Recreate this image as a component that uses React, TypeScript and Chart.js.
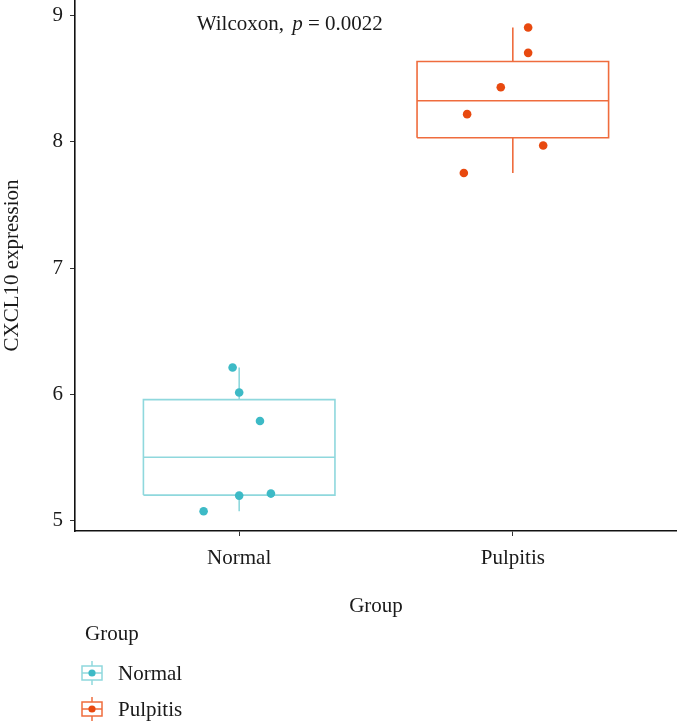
import { useEffect, useRef } from "react";
import { Chart, registerables } from "chart.js";

Chart.register(...registerables);

// ---- data ----
const categories = ["Normal", "Pulpitis"];
const normalValues = [6.213, 6.015, 5.79, 5.2, 5.216, 5.076];
const normalJitter = [-0.024, 0.0, 0.076, 0.0, 0.116, -0.13];
const pulpitisValues = [8.903, 8.702, 8.43, 8.217, 7.969, 7.752];
const pulpitisJitter = [0.056, 0.056, -0.044, -0.167, 0.111, -0.179];
const yTicks = [5, 6, 7, 8, 9];
const statMethod = "Wilcoxon";
const statP = "0.0022";
const legendTitle = "Group";
const xTitle = "Group";
const yTitle = "CXCL10 expression";

// ---- styles ----
const pointColors = ["#3DBAC6", "#E8490F"];
const lineColors = ["#8FD8DD", "#EF6C3D"];
const FONT = "'Liberation Serif', 'Times New Roman', serif";
const FS = 21;
const TEXT = "#1a1a1a";
const BOX_HALF = 0.35;

function quantile(sorted: number[], p: number) {
  const pos = (sorted.length - 1) * p;
  const lo = Math.floor(pos);
  const hi = Math.ceil(pos);
  return sorted[lo] + (sorted[hi] - sorted[lo]) * (pos - lo);
}

function boxStats(values: number[]) {
  const s = [...values].sort((a, b) => a - b);
  const q1 = quantile(s, 0.25);
  const med = quantile(s, 0.5);
  const q3 = quantile(s, 0.75);
  const iqr = q3 - q1;
  const lo = s.find((v) => v >= q1 - 1.5 * iqr) as number;
  const hi = [...s].reverse().find((v) => v <= q3 + 1.5 * iqr) as number;
  return { q1, med, q3, lo, hi };
}

const groups = [
  { values: normalValues, jitter: normalJitter },
  { values: pulpitisValues, jitter: pulpitisJitter },
];

const annotationPlugin = {
  id: "annotations",
  afterDraw(chart: any) {
    const { ctx } = chart;
    const xs = chart.scales.x;
    const ys = chart.scales.y;
    ctx.save();
    // stat label
    ctx.fillStyle = TEXT;
    ctx.textBaseline = "alphabetic";
    ctx.textAlign = "left";
    let x = xs.getPixelForValue(0.845);
    const yb = ys.getPixelForValue(8.885);
    ctx.font = `${FS}px ${FONT}`;
    const part1 = `${statMethod}, `;
    ctx.fillText(part1, x, yb);
    x += ctx.measureText(part1).width + 3;
    ctx.font = `italic ${FS}px ${FONT}`;
    ctx.fillText("p", x, yb);
    x += ctx.measureText("p").width;
    ctx.font = `${FS}px ${FONT}`;
    ctx.fillText(` = ${statP}`, x, yb);

    // legend
    const left = chart.chartArea.left;
    ctx.font = `${FS}px ${FONT}`;
    ctx.textBaseline = "middle";
    ctx.fillText(legendTitle, left + 10, 634);
    categories.forEach((name, i) => {
      const cy = 673 + i * 36;
      const cx = left + 17;
      ctx.strokeStyle = lineColors[i];
      ctx.lineWidth = 1.5;
      ctx.beginPath();
      ctx.moveTo(cx, cy - 12);
      ctx.lineTo(cx, cy + 12);
      ctx.stroke();
      ctx.fillStyle = "#fff";
      ctx.fillRect(cx - 10, cy - 7, 20, 14);
      ctx.strokeRect(cx - 10, cy - 7, 20, 14);
      ctx.beginPath();
      ctx.moveTo(cx - 10, cy);
      ctx.lineTo(cx + 10, cy);
      ctx.stroke();
      ctx.fillStyle = pointColors[i];
      ctx.beginPath();
      ctx.arc(cx, cy, 3.6, 0, Math.PI * 2);
      ctx.fill();
      ctx.fillStyle = TEXT;
      ctx.fillText(name, left + 43, cy + 1);
    });
    ctx.restore();
  },
};

export default function App() {
  const ref = useRef<HTMLCanvasElement | null>(null);

  useEffect(() => {
    if (!ref.current) return;
    const datasets: any[] = [];
    groups.forEach((g, i) => {
      const c = i + 1;
      datasets.push({
        label: categories[i],
        data: g.values.map((v, k) => ({ x: c + g.jitter[k], y: v })),
        backgroundColor: pointColors[i],
        borderColor: pointColors[i],
        pointRadius: 4.3,
        pointBorderWidth: 0,
        showLine: false,
        order: 0,
      });
    });
    groups.forEach((g, i) => {
      const c = i + 1;
      const st = boxStats(g.values);
      const line = (data: any[]) => ({
        data,
        borderColor: lineColors[i],
        backgroundColor: lineColors[i],
        borderWidth: 1.6,
        pointRadius: 0,
        showLine: true,
        fill: false,
        tension: 0,
        order: 1,
      });
      datasets.push(
        line([
          { x: c - BOX_HALF, y: st.q1 },
          { x: c + BOX_HALF, y: st.q1 },
          { x: c + BOX_HALF, y: st.q3 },
          { x: c - BOX_HALF, y: st.q3 },
          { x: c - BOX_HALF, y: st.q1 },
        ])
      );
      datasets.push(
        line([
          { x: c - BOX_HALF, y: st.med },
          { x: c + BOX_HALF, y: st.med },
        ])
      );
      datasets.push(
        line([
          { x: c, y: st.hi },
          { x: c, y: st.q3 },
        ])
      );
      datasets.push(
        line([
          { x: c, y: st.q1 },
          { x: c, y: st.lo },
        ])
      );
    });

    const chart = new Chart(ref.current, {
      type: "scatter",
      data: { datasets },
      options: {
        animation: false,
        responsive: false,
        maintainAspectRatio: false,
        layout: { autoPadding: false, padding: { top: 0, left: 0, right: 0, bottom: 105 } },
        plugins: {
          legend: { display: false },
          tooltip: { enabled: false },
        },
        scales: {
          x: {
            type: "linear",
            min: 0.4,
            max: 2.6,
            afterBuildTicks: (s: any) => {
              s.ticks = categories.map((_, i) => ({ value: i + 1 }));
            },
            afterFit: (s: any) => {
              s.height = 88;
              s.paddingLeft = 0;
              s.paddingRight = 0;
            },
            ticks: {
              callback: (v: any) => categories[Math.round(Number(v)) - 1] ?? "",
              color: TEXT,
              font: { family: FONT, size: FS },
              padding: 10,
              maxRotation: 0,
              autoSkip: false,
            },
            grid: {
              display: true,
              drawOnChartArea: false,
              drawTicks: true,
              tickLength: 5,
              color: "#333",
              lineWidth: 1,
            },
            border: { display: true, color: "#111", width: 1.6 },
            title: {
              display: true,
              text: xTitle,
              color: TEXT,
              font: { family: FONT, size: FS },
              padding: { top: 0, bottom: 0 },
            },
          },
          y: {
            type: "linear",
            min: 4.92,
            max: 9.12,
            afterBuildTicks: (s: any) => {
              s.ticks = yTicks.map((v) => ({ value: v }));
            },
            afterFit: (s: any) => {
              s.width = 75;
              s.paddingTop = 0;
              s.paddingBottom = 0;
            },
            ticks: {
              color: TEXT,
              font: { family: FONT, size: FS },
              padding: 7,
            },
            grid: {
              display: true,
              drawOnChartArea: false,
              drawTicks: true,
              tickLength: 5,
              color: "#333",
              lineWidth: 1,
            },
            border: { display: true, color: "#111", width: 1.6 },
            title: {
              display: true,
              text: yTitle,
              color: TEXT,
              font: { family: FONT, size: FS },
              padding: { top: 0, bottom: 0 },
            },
          },
        },
      } as any,
      plugins: [annotationPlugin],
    });
    return () => chart.destroy();
  }, []);

  return (
    <div style={{ position: "fixed", left: 0, top: 0, width: 677, height: 724, background: "#fff" }}>
      <canvas ref={ref} width={677} height={724} style={{ display: "block" }} />
    </div>
  );
}
